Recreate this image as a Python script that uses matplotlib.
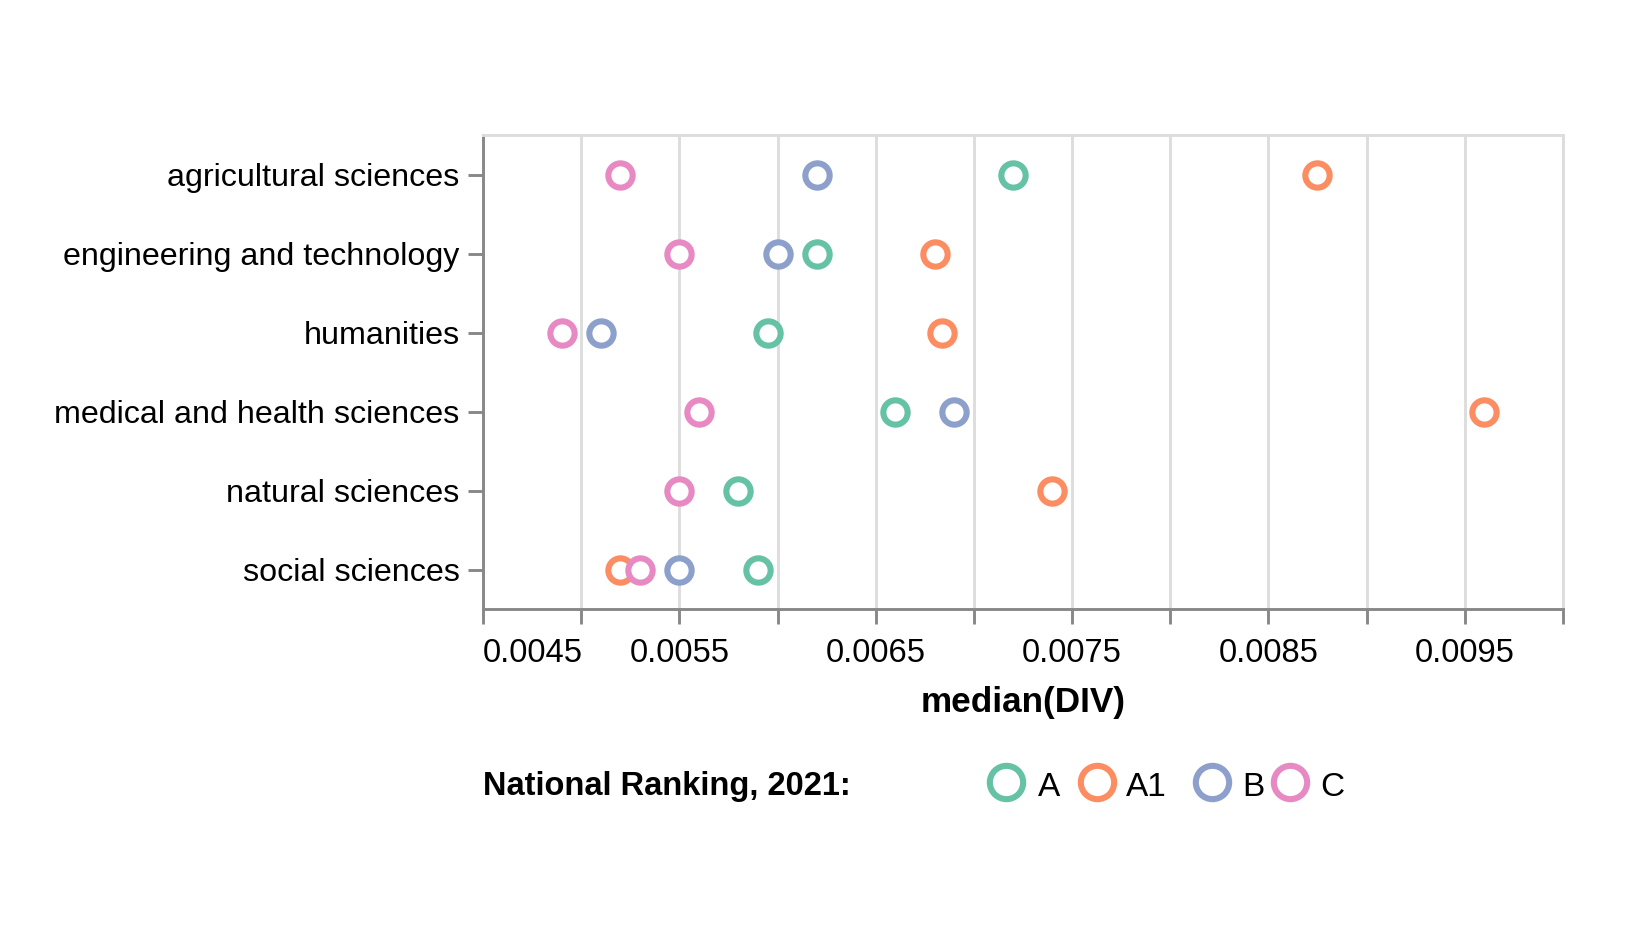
import matplotlib
matplotlib.use("Agg")
import matplotlib.pyplot as plt
from matplotlib.lines import Line2D
import numpy as np

plt.rcParams['font.family'] = ['Liberation Sans', 'DejaVu Sans']

# median(DIV) per field and ranking group
fields = ["agricultural sciences", "engineering and technology", "humanities",
          "medical and health sciences", "natural sciences", "social sciences"]
rank_A = [0.00720, 0.00620, 0.00595, 0.00660, 0.00580, 0.00590]
rank_A1 = [0.008745, 0.00680, 0.00684, 0.00960, 0.00740, 0.00520]
rank_B = [0.00620, 0.00600, 0.00510, 0.00690, np.nan, 0.00550]
rank_C = [0.00520, 0.00550, 0.00490, 0.00560, 0.00550, 0.00530]
groups = ["A", "A1", "B", "C"]
colors = ["#66c2a5", "#fc8d62", "#8da0cb", "#e78ac3"]

W, H = 1625, 932
fig = plt.figure(figsize=(W / 100, H / 100), dpi=100)
L, R, T, B = 483, 1563, 135, 609
ax = fig.add_axes([L / W, 1 - B / H, (R - L) / W, (B - T) / H])

y = np.arange(len(fields))
for vals, c in zip([rank_A, rank_A1, rank_B, rank_C], colors):
    ax.plot(vals, y, linestyle='none', marker='o', ms=17.5, mew=4.4,
            mfc='white', mec=c, zorder=3)

ax.set_ylim(len(fields) - 0.5, -0.5)
ax.set_xlim(0.0045, 0.0100)
ax.set_yticks(y)
ax.set_yticklabels(fields)

xt = np.round(np.arange(0.0045, 0.01001, 0.0005), 4)
ax.set_xticks(xt)
ax.set_xticklabels([f"{v:.4f}" if i % 2 == 0 else "" for i, v in enumerate(xt)])
ax.get_xticklabels()[0].set_horizontalalignment('left')

ax.grid(axis='x', color='#dddddd', lw=2.1)
ax.set_axisbelow(True)
for s in ['top', 'right']:
    ax.spines[s].set_color('#dddddd')
    ax.spines[s].set_linewidth(2.1)
for s in ['left', 'bottom']:
    ax.spines[s].set_color('#888888')
    ax.spines[s].set_linewidth(2.1)
ax.tick_params(axis='both', color='#888888', width=2.1, length=11, pad=6)
ax.tick_params(axis='y', labelsize=23.2)
ax.tick_params(axis='x', labelsize=23.6, pad=10)
ax.set_xlabel("median(DIV)", fontsize=25.3, fontweight='bold', labelpad=12)

# legend
ly = 1 - 787 / H
sy = 1 - 782 / H
fig.text(L / W, ly, "National Ranking, 2021:", fontsize=23.5, fontweight='bold',
         ha='left', va='center')
sym_x = [1006, 1097, 1212, 1290]
lab_x = [1049, 1146, 1253, 1332]
for g, c, sx, lx in zip(groups, colors, sym_x, lab_x):
    fig.add_artist(Line2D([sx / W], [sy], transform=fig.transFigure, marker='o',
                          ms=24, mew=4.4, mfc='white', mec=c, linestyle='none'))
    fig.text(lx / W, ly, g, fontsize=24, ha='center', va='center')

fig.savefig("out.png", dpi=100, facecolor='white')
